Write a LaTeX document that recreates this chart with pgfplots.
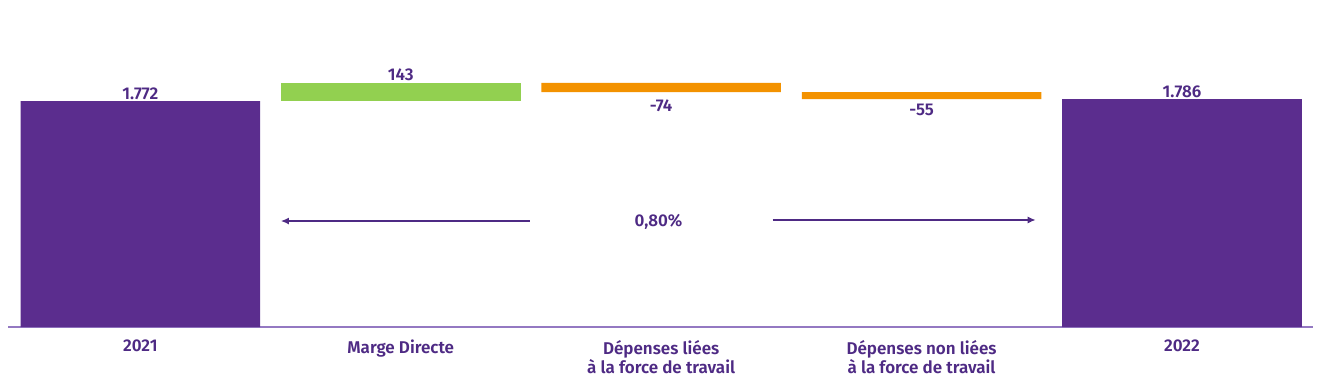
\documentclass[border=0pt]{standalone}
\usepackage{pgfplots}
\pgfplotsset{compat=1.18}
\usetikzlibrary{arrows.meta}
\usepackage{fontspec}
\setmainfont{Fira Sans}[UprightFont={* SemiBold}, BoldFont={* Bold}]
\definecolor{barpurple}{HTML}{5B2D8E}
\definecolor{txtpurple}{HTML}{4E2A84}
\definecolor{axpurple}{HTML}{9479C2}
\definecolor{bargreen}{HTML}{92D050}
\definecolor{barorange}{HTML}{F39200}
\begin{document}
\begin{tikzpicture}[font=\fontsize{17bp}{19.5bp}\selectfont, text=txtpurple]
\begin{axis}[
  scale only axis,
  width=1305bp, height=327bp,
  xmin=-0.508, xmax=4.503,
  ymin=0, ymax=2564,
  ybar stacked, bar width=0.92,
  axis y line=none,
  axis x line*=bottom,
  x axis line style={draw=axpurple, line width=1.3bp, -},
  xtick={0,1,2,3,4},
  xticklabels={2021, Marge Directe, {Dépenses liées\\à la force de travail}, {Dépenses non liées\\à la force de travail}, 2022},
  xticklabel style={align=center, text=txtpurple, inner sep=0pt, yshift=-13bp, anchor=north},
  major tick length=0pt,
  clip=false,
]
\addplot[draw=none, fill=none] coordinates {(0,0) (1,1772) (2,1841) (3,1786) (4,0)};
\addplot[draw=none, fill=barpurple] coordinates {(0,1772) (1,0) (2,0) (3,0) (4,1786)};
\addplot[draw=none, fill=bargreen] coordinates {(0,0) (1,143) (2,0) (3,0) (4,0)};
\addplot[draw=none, fill=barorange] coordinates {(0,0) (1,0) (2,74) (3,55) (4,0)};
\node[anchor=south, inner sep=1.5bp] at (axis cs:0,1772) {1.772};
\node[anchor=south, inner sep=1.5bp] at (axis cs:1,1915) {143};
\node[anchor=north, inner sep=0pt, yshift=-7bp] at (axis cs:2,1841) {-74};
\node[anchor=north, inner sep=0pt, yshift=-5bp] at (axis cs:3,1786) {-55};
\node[anchor=south, inner sep=1.5bp] at (axis cs:4,1786) {1.786};
\draw[txtpurple, line width=1.3bp, -{Latex[length=8bp,width=7bp]}] (axis cs:1.496,831) -- (axis cs:0.540,831);
\draw[txtpurple, line width=1.3bp, -{Latex[length=8bp,width=7bp]}] (axis cs:2.428,839) -- (axis cs:3.438,839);
\node at (axis cs:1.99,822) {0,80\%};
\coordinate (bl) at (rel axis cs:0,0);
\end{axis}
\pgfresetboundingbox
\path ([xshift=-8bp,yshift=-58bp]bl) rectangle ([xshift=1315bp,yshift=327bp]bl);
\end{tikzpicture}
\end{document}
